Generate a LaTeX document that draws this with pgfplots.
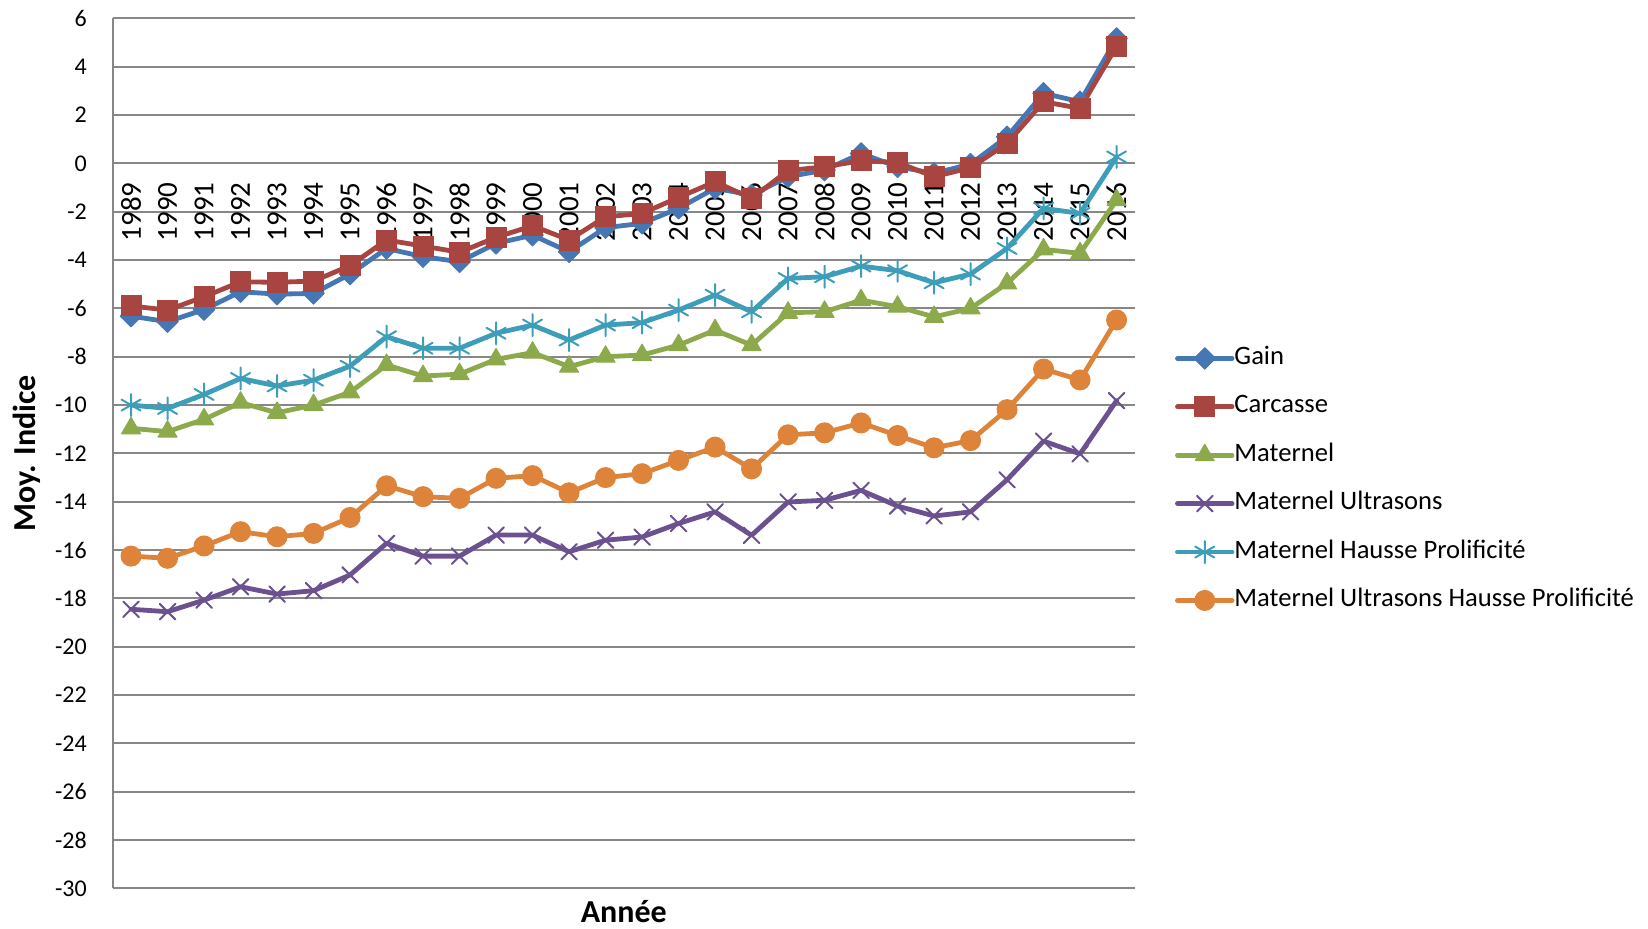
\documentclass[border=0pt]{standalone}
\usepackage{pgfplots}
\usepackage{pgfplotstable}
\pgfplotsset{compat=1.18}
\usepackage{fontspec}
\setmainfont{Carlito}
\definecolor{cGain}{HTML}{4677B5}
\definecolor{cCarc}{HTML}{A94541}
\definecolor{cMat}{HTML}{8CAA4B}
\definecolor{cMU}{HTML}{6C5190}
\definecolor{cMHP}{HTML}{3E9EBA}
\definecolor{cMUHP}{HTML}{DE843A}
\definecolor{cGrid}{HTML}{878787}
\pgfplotstableread{
i Gain Carc Mat MU MHP MUHP
0 -6.32 -5.90 -10.96 -18.45 -10.00 -16.25
1 -6.55 -6.07 -11.10 -18.55 -10.14 -16.34
2 -6.05 -5.52 -10.59 -18.07 -9.56 -15.83
3 -5.31 -4.90 -9.90 -17.52 -8.90 -15.24
4 -5.41 -4.92 -10.32 -17.82 -9.21 -15.45
5 -5.38 -4.87 -10.00 -17.68 -8.97 -15.31
6 -4.58 -4.23 -9.47 -17.03 -8.39 -14.65
7 -3.52 -3.17 -8.34 -15.72 -7.17 -13.34
8 -3.86 -3.42 -8.80 -16.25 -7.65 -13.79
9 -4.07 -3.68 -8.72 -16.25 -7.65 -13.86
10 -3.31 -3.06 -8.11 -15.38 -7.03 -13.03
11 -2.97 -2.58 -7.83 -15.38 -6.69 -12.92
12 -3.66 -3.17 -8.41 -16.07 -7.31 -13.63
13 -2.66 -2.21 -8.00 -15.59 -6.69 -13.00
14 -2.48 -2.07 -7.93 -15.46 -6.59 -12.84
15 -1.86 -1.41 -7.52 -14.90 -6.07 -12.29
16 -1.03 -0.76 -6.90 -14.42 -5.45 -11.74
17 -1.31 -1.45 -7.52 -15.39 -6.14 -12.64
18 -0.55 -0.30 -6.18 -14.01 -4.76 -11.23
19 -0.28 -0.14 -6.14 -13.94 -4.69 -11.15
20 0.41 0.11 -5.66 -13.53 -4.25 -10.74
21 -0.14 0.04 -5.93 -14.18 -4.44 -11.26
22 -0.41 -0.55 -6.35 -14.59 -4.94 -11.77
23 -0.03 -0.18 -6.00 -14.42 -4.58 -11.47
24 1.10 0.83 -4.96 -13.09 -3.52 -10.19
25 2.90 2.55 -3.56 -11.49 -1.86 -8.51
26 2.55 2.28 -3.72 -12.02 -2.07 -8.96
27 5.17 4.85 -1.52 -9.82 0.27 -6.48
}\data
\begin{document}
\begin{tikzpicture}
\useasboundingbox (0,0) rectangle (824pt,464pt);
\begin{axis}[
  at={(56.4pt,19.8pt)}, anchor=south west,
  scale only axis, width=511pt, height=435pt,
  xmin=-0.5, xmax=27.5, ymin=-30, ymax=6,
  axis x line*=middle, axis y line*=left,
  axis line style={cGrid, line width=1pt},
  ytick={-30,-28,...,6},
  xtick={0,...,27},
  xticklabels={1989,1990,1991,1992,1993,1994,1995,1996,1997,1998,1999,2000,2001,2002,2003,2004,2005,2006,2007,2008,2009,2010,2011,2012,2013,2014,2015,2016},
  major tick length=0pt,
  ymajorgrids, grid style={cGrid, line width=1pt},
  /pgf/number format/assume math mode=true,
  yticklabel style={anchor=east, inner sep=0pt, xshift=-12.8pt, font=\fontsize{12}{14}\selectfont},
  xticklabel style={rotate=90, anchor=east, inner sep=0pt, xshift=-9.3pt, font=\fontsize{14.5}{16}\selectfont},
  xlabel={\textbf{Année}}, ylabel={\textbf{Moy. Indice}},
  x label style={at={(axis description cs:0.5,0)}, anchor=center, yshift=-11.6pt, inner sep=0pt, font=\fontsize{16}{18}\selectfont},
  y label style={at={(axis description cs:-0.0843,0.5)}, anchor=center, font=\fontsize{16}{18}\selectfont},
  clip=false,
  every axis plot/.append style={line width=2.4pt, line join=round, line cap=round},
  legend image code/.code={\draw[mark repeat=2, mark phase=2, #1] plot coordinates {(0pt,0pt) (13.65pt,0pt) (27.3pt,0pt)};},
  legend cell align=left,
  legend style={draw=none, fill=none, at={(axis description cs:1.039,0.6234)}, anchor=north west,
    inner sep=0pt, row sep=12.2pt, column sep=0pt,
    nodes={inner sep=0pt, text height=9pt, text depth=3pt, font=\fontsize{13.3}{15}\selectfont}},
]
\addplot[cGain, mark=square*, mark size=3.8pt, mark options={solid, fill=cGain, rotate=45, line width=0.5pt}] table[x=i, y=Gain] {\data};
\addlegendentry{Gain}
\addplot[cCarc, mark=square*, mark size=5pt, mark options={solid, fill=cCarc, line width=0.5pt}] table[x=i, y=Carc] {\data};
\addlegendentry{Carcasse}
\addplot[cMat, mark=triangle*, mark size=5.5pt, mark options={solid, fill=cMat, line width=0.5pt}] table[x=i, y=Mat] {\data};
\addlegendentry{Maternel}
\addplot[cMU, mark=x, mark size=5.5pt, mark options={solid, line width=1pt}] table[x=i, y=MU] {\data};
\addlegendentry{Maternel Ultrasons}
\addplot[cMHP, mark=asterisk, mark size=5.5pt, mark options={solid, line width=1pt}] table[x=i, y=MHP] {\data};
\addlegendentry{Maternel Hausse Prolificité}
\addplot[cMUHP, mark=*, mark size=5pt, mark options={solid, fill=cMUHP, line width=0.5pt}] table[x=i, y=MUHP] {\data};
\addlegendentry{Maternel Ultrasons Hausse Prolificité}
\end{axis}
\end{tikzpicture}
\end{document}
